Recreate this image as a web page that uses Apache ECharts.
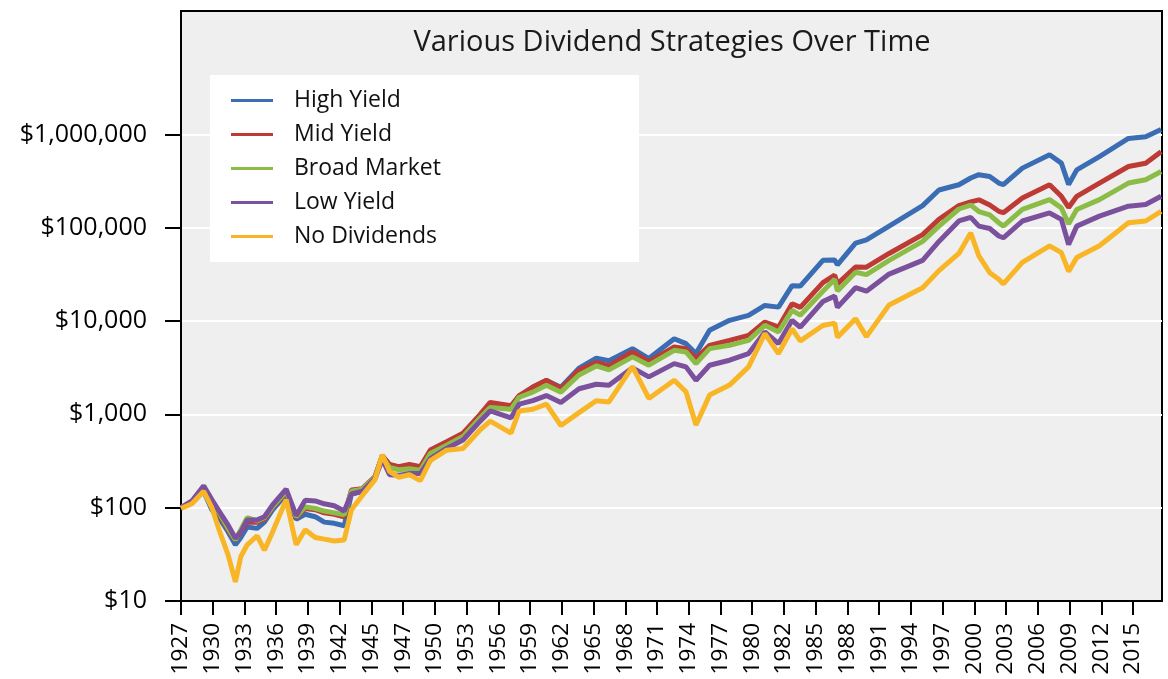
<!DOCTYPE html>
<html>
<head>
<meta charset="utf-8">
<title>Various Dividend Strategies Over Time</title>
<script src="https://cdn.jsdelivr.net/npm/echarts@6/dist/echarts.min.js"></script>
<style>
  html, body { margin: 0; padding: 0; background: #fff; }
  #chart { width: 1168px; height: 679px; }
</style>
</head>
<body>
<div id="chart"></div>
<script>
// decimal years of the sampled points (series start July 1927)
var dates = [
    1927.5, 1928.5, 1929.6, 1930.3, 1931.0, 1931.8, 1932.5, 1933.0, 1933.6, 1934.5,
    1935.2, 1935.9, 1937.2, 1938.1, 1938.9, 1939.8, 1940.7, 1941.6, 1942.5, 1943.2,
    1944.2, 1945.3, 1946.0, 1946.7, 1947.5, 1948.5, 1949.5, 1950.4, 1951.9, 1953.4,
    1955.0, 1955.9, 1957.8, 1958.6, 1959.8, 1961.1, 1962.4, 1964.1, 1965.7, 1966.8,
    1969.0, 1970.5, 1972.8, 1973.9, 1974.8, 1976.1, 1977.9, 1979.7, 1981.2, 1982.4,
    1983.7, 1984.4, 1986.5, 1987.6, 1987.8, 1989.5, 1990.5, 1992.6, 1995.7, 1997.2,
    1999.0, 2000.1, 2000.8, 2001.8, 2002.7, 2003.1, 2004.8, 2007.3, 2008.4, 2009.1,
    2009.8, 2011.9, 2014.6, 2016.2, 2017.6
];

var highYield = [
    100, 112, 150, 95, 78, 55, 40, 48, 62, 60,
    70, 95, 140, 75, 85, 80, 70, 68, 64, 140,
    150, 210, 360, 290, 265, 285, 270, 400, 500, 600,
    960, 1300, 1200, 1560, 1950, 2300, 1950, 3121, 4000, 3750,
    5059, 3961, 6467, 5722, 4482, 7956, 10175, 11503, 14704, 14100,
    23950, 23700, 44714, 45000, 40000, 68440, 74000, 104140, 172590, 253650,
    288470, 341000, 370000, 354000, 301000, 290000, 435000, 604000, 492000, 290000,
    417000, 579000, 905000, 944000, 1130000
];

var midYield = [
    100, 115, 160, 105, 85, 58, 45, 55, 70, 70,
    75, 100, 148, 78, 98, 95, 88, 85, 80, 155,
    160, 215, 360, 290, 275, 290, 275, 415, 510, 629,
    1000, 1343, 1235, 1590, 1962, 2323, 1882, 2992, 3600, 3300,
    4665, 3650, 5276, 5059, 3961, 5494, 6209, 7019, 9757, 8600,
    15331, 14000, 25812, 31000, 25000, 37822, 37800, 52960, 84470, 123270,
    172590, 189000, 199000, 175000, 150000, 145000, 208000, 289000, 217000, 165000,
    217000, 301000, 453000, 491000, 653000
];

var broadMarket = [
    100, 116, 160, 110, 88, 60, 45, 58, 78, 72,
    78, 102, 150, 80, 102, 98, 92, 88, 84, 150,
    158, 212, 350, 270, 255, 262, 252, 380, 468, 578,
    919, 1184, 1135, 1524, 1730, 2049, 1730, 2638, 3300, 3000,
    4131, 3362, 4859, 4665, 3498, 5059, 5494, 6209, 8993, 7625,
    13016, 11550, 20883, 28000, 21000, 33272, 31400, 44714, 71310, 104140,
    158660, 175000, 149000, 137000, 113000, 104000, 157000, 200000, 163000, 110000,
    157000, 200000, 301000, 327000, 400000
];

var lowYield = [
    100, 118, 172, 122, 92, 65, 47, 55, 74, 74,
    80, 107, 158, 82, 120, 118, 110, 105, 92, 140,
    150, 205, 330, 225, 222, 232, 232, 335, 431, 531,
    845, 1088, 919, 1288, 1401, 1590, 1343, 1882, 2100, 2050,
    3150, 2523, 3498, 3227, 2323, 3362, 3803, 4482, 7643, 5730,
    10175, 8585, 16199, 18500, 14000, 22749, 20900, 31860, 44714, 71310,
    118250, 129000, 104000, 98000, 81500, 78000, 118000, 144000, 123000, 66000,
    104000, 133000, 170000, 177000, 217000
];

var noDividends = [
    98, 110, 150, 100, 58, 31, 16, 30, 40, 50,
    35, 55, 122, 40, 58, 48, 46, 44, 45, 95,
    135, 200, 370, 245, 212, 225, 195, 320, 413, 431,
    684, 845, 629, 1088, 1135, 1288, 760, 1043, 1400, 1360,
    3250, 1482, 2323, 1746, 769, 1608, 2058, 3227, 7340, 4480,
    8252, 6122, 8957, 9500, 6700, 10610, 6800, 14885, 22749, 34670,
    52960, 88000, 50000, 33000, 28000, 25000, 42500, 63800, 54000, 34000,
    48000, 64000, 113000, 118000, 150000
];

var seriesNames = ['High Yield', 'Mid Yield', 'Broad Market', 'Low Yield', 'No Dividends'];
var seriesColors = ['#3a6db4', '#be3a34', '#8cbc48', '#7b519d', '#f8b526'];

var yearLabels = [
    '1927', '1930', '1933', '1936', '1939', '1942', '1945', '1947', '1950', '1953',
    '1956', '1959', '1962', '1965', '1968', '1971', '1974', '1977', '1980', '1982',
    '1985', '1988', '1991', '1994', '1997', '2000', '2003', '2006', '2009', '2012', '2015'
];
var dollarTicks = [10, 100, 1000, 10000, 100000, 1000000];

var MONTHS_PER_LABEL = 35;
var LAST_MONTH = 1082;

function monthIndex(y) {
    return Math.round((y - 1927.5) * 12);
}

function pairs(values) {
    return dates.map(function (d, i) {
        return [monthIndex(d), values[i]];
    });
}

var xTicks = yearLabels.map(function (_, i) { return i * MONTHS_PER_LABEL; });

var font = '"Open Sans"';
var allValues = [highYield, midYield, broadMarket, lowYield, noDividends];

var series = seriesNames.map(function (name, i) {
    return {
        name: name,
        type: 'line',
        data: pairs(allValues[i]),
        showSymbol: false,
        color: seriesColors[i],
        lineStyle: { width: 5, color: seriesColors[i] },
        animation: false
    };
});

var myChart = echarts.init(document.getElementById('chart'));

var option = {
    backgroundColor: '#fff',
    animation: false,
    title: {
        text: 'Various Dividend Strategies Over Time',
        left: 672,
        top: 28,
        textAlign: 'center',
        padding: 0,
        textStyle: { fontFamily: font, fontSize: 29, fontWeight: 'normal', color: '#1a1a1a' }
    },
    legend: {
        data: seriesNames,
        orient: 'vertical',
        left: 210,
        top: 75,
        icon: 'rect',
        itemWidth: 42,
        itemHeight: 3,
        itemGap: 11,
        padding: [14, 198, 14, 21],
        backgroundColor: '#fff',
        textStyle: { fontFamily: font, fontSize: 23, color: '#111', lineHeight: 22, padding: [0, 0, 0, 16] }
    },
    grid: {
        left: 181,
        right: 6,
        top: 11,
        bottom: 78,
        show: true,
        backgroundColor: '#efefef',
        borderColor: '#000',
        borderWidth: 2
    },
    xAxis: {
        type: 'value',
        min: 0,
        max: LAST_MONTH,
        axisLine: { show: true, onZero: false, lineStyle: { color: '#000', width: 2 } },
        axisTick: { show: true, customValues: xTicks, length: 14, lineStyle: { color: '#000', width: 2 } },
        axisLabel: {
            customValues: xTicks,
            rotate: 90,
            margin: 22,
            fontFamily: font,
            fontSize: 22.5,
            color: '#000',
            formatter: function (v) {
                return yearLabels[Math.round(v / MONTHS_PER_LABEL)];
            }
        },
        splitLine: { show: false }
    },
    yAxis: {
        type: 'log',
        logBase: 10,
        min: 10,
        max: 2.1e7,
        axisLine: { show: true, lineStyle: { color: '#000', width: 2 } },
        axisTick: { show: true, customValues: dollarTicks, length: 16, lineStyle: { color: '#000', width: 2 } },
        axisLabel: {
            customValues: dollarTicks,
            margin: 34,
            fontFamily: font,
            fontSize: 25,
            color: '#000',
            formatter: function (v) {
                return '$' + Number(v).toLocaleString('en-US');
            }
        },
        splitLine: { show: true, showMinLine: false, lineStyle: { color: '#fff', width: 2 } }
    },
    series: series
};

myChart.setOption(option);
window.addEventListener('resize', function () {
    myChart.resize();
});
</script>
</body>
</html>
